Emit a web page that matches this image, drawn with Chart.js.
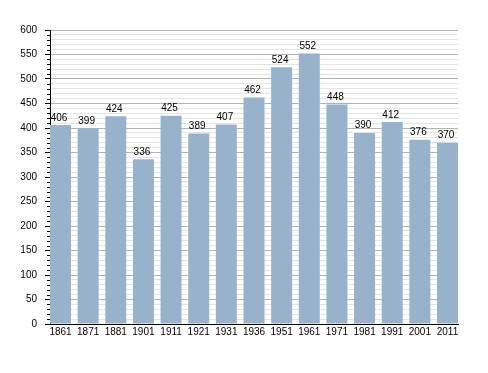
<!DOCTYPE html>
<html>
<head>
<meta charset="utf-8">
<script src="https://cdn.jsdelivr.net/npm/chart.js@4/dist/chart.umd.min.js"></script>
<style>
html,body{margin:0;padding:0;background:#fff;}
#wrap{width:488px;height:373px;position:relative;}
</style>
</head>
<body>
<div id="wrap"><canvas id="c" width="488" height="373"></canvas></div>
<script>
const years = ["1861","1871","1881","1901","1911","1921","1931","1936","1951","1961","1971","1981","1991","2001","2011"];
const population = [406,399,424,336,425,389,407,462,524,552,448,390,412,376,370];
const yMin = 0, yMax = 600, yMajorStep = 50, yMinorStep = 10;

const FONT = "'Liberation Sans', Arial, sans-serif";

const valueLabels = {
  id: 'valueLabels',
  afterDatasetsDraw(chart) {
    const ctx = chart.ctx;
    const meta = chart.getDatasetMeta(0);
    ctx.save();
    ctx.font = "10px " + FONT;
    ctx.fillStyle = '#000';
    ctx.textAlign = 'center';
    ctx.textBaseline = 'alphabetic';
    meta.data.forEach((bar, i) => {
      ctx.fillText(String(population[i]), bar.x - 1.5, bar.y - 4.5);
    });
    ctx.restore();
  }
};

const minorTicks = {
  id: 'minorTicks',
  afterDraw(chart) {
    const ctx = chart.ctx;
    const ys = chart.scales.y;
    const left = chart.chartArea.left;
    ctx.save();
    ctx.strokeStyle = '#000';
    ctx.lineWidth = 1;
    ctx.beginPath();
    for (let v = yMin; v <= yMax; v += yMinorStep) {
      if (v % yMajorStep === 0) continue;
      const p = Math.round(ys.getPixelForValue(v)) + 0.5;
      ctx.moveTo(left - 3, p);
      ctx.lineTo(left, p);
    }
    ctx.stroke();
    ctx.restore();
  }
};

new Chart(document.getElementById('c'), {
  type: 'bar',
  data: {
    datasets: [{
      data: population.map((v, i) => ({x: i, y: v})),
      backgroundColor: '#98b2cc',
      borderWidth: 0,
      categoryPercentage: 1,
      barPercentage: 0.76
    }]
  },
  options: {
    responsive: false,
    animation: false,
    devicePixelRatio: 1,
    layout: {padding: {top: 30, right: 30, left: 0, bottom: 0}},
    plugins: {legend: {display: false}, tooltip: {enabled: false}},
    scales: {
      x: {
        type: 'linear',
        offset: false,
        min: -0.38,
        max: 14.38,
        afterBuildTicks: s => { s.ticks = years.map((_, i) => ({value: i})); },
        afterFit: s => { s.height = 49; },
        grid: {display: false, drawTicks: false, offset: false},
        border: {display: true, color: '#000', width: 1},
        ticks: {
          autoSkip: false, maxRotation: 0, padding: 2,
          color: '#000', font: {family: FONT, size: 10},
          callback: v => years[v] !== undefined ? years[v] : ''
        }
      },
      y: {
        min: yMin,
        max: yMax,
        afterBuildTicks: s => {
          const t = [];
          for (let v = yMin; v <= yMax; v += yMinorStep) t.push({value: v});
          s.ticks = t;
        },
        afterFit: s => { s.width = 50; },
        grid: {
          color: c => (c.tick && c.tick.value % yMajorStep === 0) ? '#b3b3b3' : '#e4e4e4',
          tickColor: c => (c.tick && c.tick.value % yMajorStep === 0) ? '#000' : 'rgba(0,0,0,0)',
          tickLength: 5
        },
        border: {display: true, color: '#000', width: 1},
        ticks: {
          autoSkip: false, padding: 8,
          color: '#000', font: {family: FONT, size: 10},
          callback: v => v % yMajorStep === 0 ? String(v) : ''
        }
      }
    }
  },
  plugins: [valueLabels, minorTicks]
});
</script>
</body>
</html>
